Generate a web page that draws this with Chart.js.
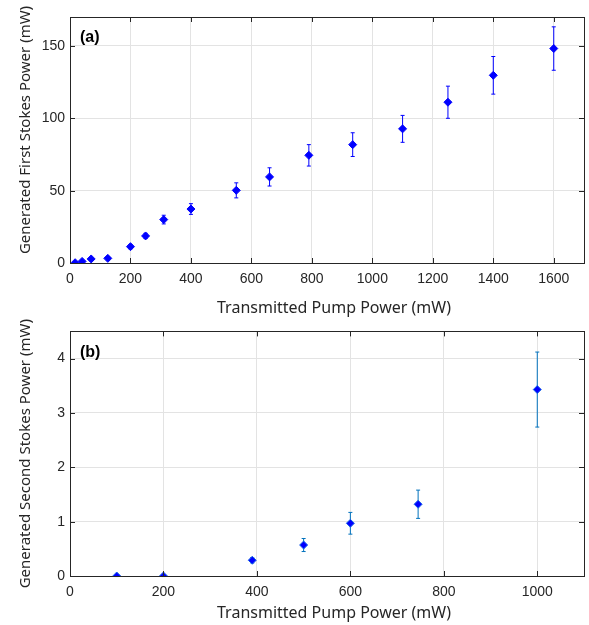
<!DOCTYPE html>
<html>
<head>
<meta charset="utf-8">
<script src="https://cdn.jsdelivr.net/npm/chart.js@4.4.0/dist/chart.umd.min.js"></script>
<style>
  body { margin: 0; background: #fff; }
  .box { position: relative; width: 589px; }
  canvas { display: block; }
</style>
</head>
<body>
<div class="box" style="height:318px"><canvas id="c1"></canvas></div>
<div class="box" style="height:307px"><canvas id="c2"></canvas></div>
<script>
// panel (a): first Stokes
const pumpA = [17, 40, 70, 125, 200, 250, 310, 400, 550, 660, 790, 935, 1100, 1250, 1400, 1600];
const firstStokes = [0.2, 1.1, 2.8, 3.2, 11.3, 18.7, 30, 37.3, 50.2, 59.5, 74.4, 81.8, 92.7, 111.1, 129.7, 148.2];
const firstErr = [0.3, 0.5, 1, 1, 1.5, 1.8, 3, 3.7, 5.2, 6.3, 7.4, 8.2, 9.3, 11.1, 13, 15];
const xTicksA = [0, 200, 400, 600, 800, 1000, 1200, 1400, 1600];
const yTicksA = [0, 50, 100, 150];

// panel (b): second Stokes
const pumpB = [100, 200, 390, 500, 600, 745, 1000];
const secondStokes = [0, 0, 0.29, 0.57, 0.97, 1.32, 3.43];
const secondErr = [0.01, 0.01, 0.05, 0.12, 0.2, 0.26, 0.69];
const xTicksB = [0, 200, 400, 600, 800, 1000];
const yTicksB = [0, 1, 2, 3, 4];

const textColor = '#262626';
const tickFont = { family: 'Liberation Sans', size: 14 };
const xTitle = 'Transmitted Pump Power (mW)';

// error bars, drawn under the markers
const errorBars = {
  id: 'errorBars',
  beforeDatasetsDraw(chart, args, opts) {
    const ctx = chart.ctx;
    const xs = chart.scales.x, ys = chart.scales.y;
    const ds = chart.data.datasets[0];
    ctx.save();
    ctx.strokeStyle = opts.color;
    ctx.lineWidth = 1;
    ds.data.forEach((p, i) => {
      const e = opts.err[i];
      const px = xs.getPixelForValue(p.x);
      const top = ys.getPixelForValue(p.y + e);
      const bot = ys.getPixelForValue(p.y - e);
      ctx.beginPath();
      ctx.moveTo(px, top); ctx.lineTo(px, bot);
      ctx.moveTo(px - 2, top); ctx.lineTo(px + 2, top);
      ctx.moveTo(px - 2, bot); ctx.lineTo(px + 2, bot);
      ctx.stroke();
    });
    ctx.restore();
  }
};

// matlab style box with inward ticks, panel letter and axis labels
const boxFrame = {
  id: 'boxFrame',
  afterDraw(chart, args, opts) {
    const ctx = chart.ctx;
    const a = chart.chartArea;
    const xs = chart.scales.x, ys = chart.scales.y;
    ctx.save();
    ctx.strokeStyle = textColor;
    ctx.lineWidth = 1;
    ctx.beginPath();
    xs.ticks.forEach(t => {
      const px = Math.round(xs.getPixelForValue(t.value)) + 0.5;
      ctx.moveTo(px, a.bottom); ctx.lineTo(px, a.bottom - 5);
      ctx.moveTo(px, a.top); ctx.lineTo(px, a.top + 5);
    });
    ys.ticks.forEach(t => {
      const py = Math.round(ys.getPixelForValue(t.value)) + 0.5;
      ctx.moveTo(a.left, py); ctx.lineTo(a.left + 5, py);
      ctx.moveTo(a.right, py); ctx.lineTo(a.right - 5, py);
    });
    ctx.stroke();
    ctx.strokeRect(Math.round(a.left) + 0.5, Math.round(a.top) + 0.5,
      Math.round(a.right - a.left), Math.round(a.bottom - a.top));

    ctx.fillStyle = '#000';
    ctx.font = 'bold 16px "Liberation Sans"';
    ctx.textBaseline = 'middle';
    ctx.textAlign = 'left';
    ctx.fillText(opts.label, a.left + 10, a.top + 21);

    ctx.fillStyle = textColor;
    ctx.font = '16px "Noto Sans"';
    ctx.textAlign = 'center';
    ctx.fillText(xTitle, (a.left + a.right) / 2 + 7, a.bottom + opts.xTitleGap);

    ctx.translate(26, (a.top + a.bottom) / 2 + opts.yShift);
    ctx.rotate(-Math.PI / 2);
    ctx.font = '15px "Noto Sans"';
    ctx.fillText(opts.yTitle, 0, 0);
    ctx.restore();
  }
};

function makeChart(id, xs, ys, err, cfg) {
  return new Chart(document.getElementById(id), {
    type: 'scatter',
    data: {
      datasets: [{
        data: xs.map((x, i) => ({ x: x, y: ys[i] })),
        pointStyle: 'rectRot',
        pointRadius: 4,
        pointHoverRadius: 4,
        backgroundColor: '#0000ff',
        borderColor: cfg.markerEdge,
        borderWidth: 1
      }]
    },
    options: {
      responsive: true,
      maintainAspectRatio: false,
      animation: false,
      layout: { padding: { top: cfg.padTop, right: 3, left: 0, bottom: 0 } },
      plugins: {
        legend: { display: false },
        tooltip: { enabled: false },
        errorBars: { err: err, color: cfg.errColor },
        boxFrame: { label: cfg.label, yTitle: cfg.yTitle, yShift: cfg.yShift, xTitleGap: cfg.xTitleGap }
      },
      scales: {
        x: {
          type: 'linear',
          min: 0, max: cfg.xMax,
          afterFit: s => { s.height = cfg.xHeight; },
          afterBuildTicks: s => { s.ticks = cfg.xTicks.map(v => ({ value: v })); },
          ticks: { color: textColor, font: tickFont, padding: 8, maxRotation: 0, autoSkip: false,
                   callback: v => String(v) },
          grid: { color: '#e3e3e3', drawTicks: false },
          border: { display: false }
        },
        y: {
          min: 0, max: cfg.yMax,
          afterFit: s => { s.width = 70; },
          afterBuildTicks: s => { s.ticks = cfg.yTicks.map(v => ({ value: v })); },
          ticks: { color: textColor, font: tickFont, padding: 5, autoSkip: false,
                   callback: v => String(v) },
          grid: { color: '#e3e3e3', drawTicks: false },
          border: { display: false }
        }
      }
    },
    plugins: [errorBars, boxFrame]
  });
}

makeChart('c1', pumpA, firstStokes, firstErr, {
  label: '(a)', xMax: 1700, yMax: 170, xTicks: xTicksA, yTicks: yTicksA,
  padTop: 17, xHeight: 55, yShift: -10, xTitleGap: 45,
  yTitle: 'Generated First Stokes Power (mW)',
  markerEdge: '#0000ff', errColor: '#0000ff'
});

makeChart('c2', pumpB, secondStokes, secondErr, {
  label: '(b)', xMax: 1100, yMax: 4.5, xTicks: xTicksB, yTicks: yTicksB,
  padTop: 13, xHeight: 49, yShift: 0, xTitleGap: 37,
  yTitle: 'Generated Second Stokes Power (mW)',
  markerEdge: '#1a66e6', errColor: '#0072bd'
});
</script>
</body>
</html>
